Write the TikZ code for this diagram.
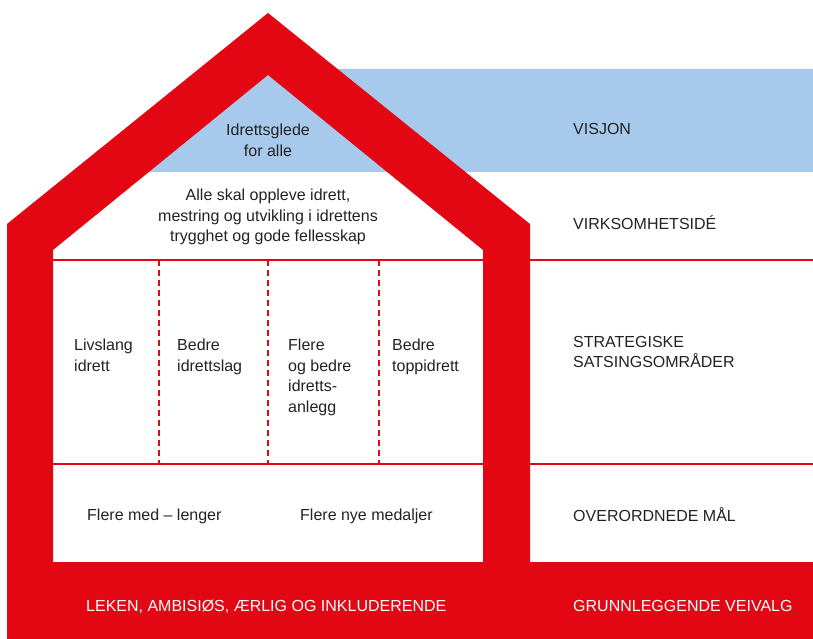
\documentclass[tikz,border=0pt]{standalone}
\usepackage{fontspec}
\setmainfont{Liberation Sans}
\definecolor{nifred}{HTML}{E30613}
\definecolor{nifblue}{HTML}{A7C9EB}
\definecolor{niftext}{HTML}{222222}
\tikzset{txt/.style={inner sep=0pt, text=niftext, font=\fontsize{16}{20.5}\selectfont, align=left}, ctxt/.style={txt, align=center, anchor=north}, wtxt/.style={txt, text=white, anchor=base west}, rowline/.style={nifred, line width=1.5pt}, colline/.style={nifred, line width=1.5pt, dash pattern=on 6pt off 4pt}}

\begin{document}
\begin{tikzpicture}[x=1pt,y=-1pt]
    \useasboundingbox (0,0) rectangle (813,639);
    % visjon
    \fill[nifblue] (336,69) -- (813,69) -- (813,172) -- (148,172) -- (268,75) -- cycle;
    % house
    \fill[nifred, even odd rule] (7,639) -- (7,224) -- (268,13) -- (530,224) -- (530,562) -- (813,562) -- (813,639) -- cycle
        (53,562) -- (53,250) -- (268,75) -- (483,250) -- (483,562) -- cycle;
    \draw[rowline] (53,260) -- (483,260) (530,260) -- (813,260);
    \draw[rowline] (53,464) -- (483,464) (530,464) -- (813,464);
    \foreach \x in {159,268,379}
        \draw[colline] (\x,260) -- (\x,464);
    \node[ctxt] (visjon) at (268,124) {Idrettsglede\\for alle};
    \node[ctxt] (ide) at (268,189) {Alle skal oppleve idrett,\\mestring og utvikling i idrettens\\trygghet og gode fellesskap};
    \node[txt, anchor=north west] (livslang) at (74,339) {Livslang\\idrett};
    \node[txt, anchor=north west] (idrettslag) at (177,339) {Bedre\\idrettslag};
    \node[txt, anchor=north west] (anlegg) at (288,339) {Flere\\og bedre\\idretts-\\anlegg};
    \node[txt, anchor=north west] (topp) at (392,339) {Bedre\\toppidrett};
    \node[txt, anchor=base west] (lenger) at (87,520.5) {Flere med – lenger};
    \node[txt, anchor=base west] (medaljer) at (300,520.5) {Flere nye medaljer};
    \node[wtxt] (verdier) at (86,611.5) {LEKEN, AMBISIØS, ÆRLIG OG INKLUDERENDE};
    % labels to the right
    \node[txt, anchor=base west] (lvisjon) at (573,134.5) {VISJON};
    \node[txt, anchor=base west] (lide) at (573,229.5) {VIRKSOMHETSIDÉ};
    \node[txt, anchor=north west] (lstrat) at (573,336) {STRATEGISKE\\SATSINGSOMRÅDER};
    \node[txt, anchor=base west] (lmal) at (573,521.5) {OVERORDNEDE MÅL};
    \node[wtxt] (lveivalg) at (573,611.5) {GRUNNLEGGENDE VEIVALG};
\end{tikzpicture}
\end{document}
